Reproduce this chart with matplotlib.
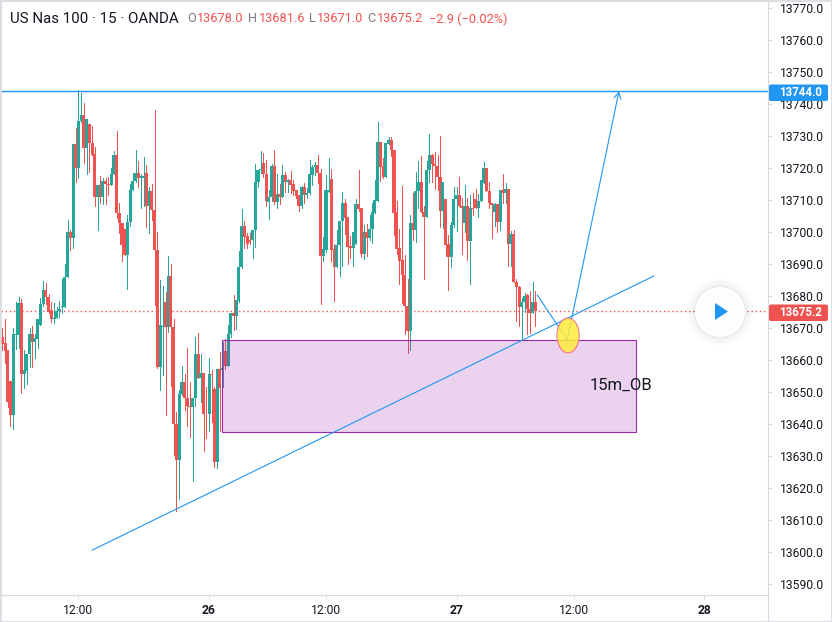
import matplotlib
matplotlib.use('Agg')
import matplotlib.pyplot as plt
import numpy as np
from matplotlib.patches import Rectangle, Ellipse, Circle, Polygon, FancyBboxPatch

plt.rcParams['font.family'] = ['Roboto', 'DejaVu Sans']

# prices are stored minus this base to keep the lists short
price_base = 13000

opens = [
    667.1, 665.2, 663.1, 653.4, 642.9, 667.8, 667.8, 677.8, 655.8, 656.7,
    661.8, 668.0, 665.7, 666.7, 670.9, 677.5, 681.9, 679.6, 675.8, 672.9,
    673.1, 675.2, 676.5, 676.5, 686.0, 699.9, 698.2, 727.5, 720.1, 734.7,
    736.6, 726.4, 733.7, 727.7, 724.4, 711.0, 714.6, 711.0, 716.1, 714.9,
    714.8, 718.3, 724.0, 706.0, 702.9, 701.0, 692.9, 703.3, 713.3, 715.9,
    718.4, 716.8, 716.8, 718.4, 708.1, 712.8, 707.0, 694.4, 657.9, 670.4,
    678.1, 670.4, 686.3, 670.2, 640.0, 628.8, 649.4, 653.1, 648.0, 645.7,
    645.4, 648.0, 661.9, 654.4, 655.9, 643.1, 643.0, 655.6, 651.0, 628.2,
    657.2, 656.9, 662.8, 658.2, 668.0, 674.8, 673.9, 678.4, 689.0, 701.9,
    698.8, 697.5, 697.5, 700.8, 715.6, 719.4, 721.6, 718.3, 709.5, 711.0,
    720.6, 709.4, 711.9, 710.9, 717.8, 715.6, 716.3, 715.0, 713.1, 711.6,
    708.1, 714.0, 711.6, 712.2, 717.8, 720.2, 720.9, 718.6, 692.6, 694.4,
    712.6, 716.6, 694.7, 689.2, 696.1, 703.4, 709.0, 704.6, 695.6, 695.1,
    696.4, 708.7, 707.5, 693.2, 700.0, 698.0, 701.1, 706.0, 709.8, 728.1,
    720.6, 717.3, 727.4, 728.7, 725.8, 706.3, 695.0, 691.3, 686.6, 676.9,
    669.2, 702.7, 700.6, 712.7, 715.5, 706.4, 704.8, 719.3, 724.0, 721.3,
    720.8, 717.1, 706.7, 710.3, 696.2, 692.3, 702.1, 710.3, 711.6, 708.1,
    702.7, 708.1, 697.3, 707.4, 710.3, 707.5, 709.7, 715.4, 719.9, 712.9,
    709.0, 706.3, 708.8, 703.2, 713.1, 712.2, 713.4, 696.3, 699.3, 684.4,
    682.9, 676.7, 678.0, 680.3, 676.1, 674.6, 678.1,
]
highs = [
    669.9, 672.8, 663.1, 653.4, 670.0, 678.1, 679.7, 679.0, 663.1, 661.8,
    670.0, 670.5, 668.3, 672.8, 679.3, 684.7, 684.0, 680.8, 678.2, 677.7,
    676.5, 678.4, 685.3, 690.0, 703.7, 700.6, 727.5, 732.6, 744.4, 743.5,
    740.2, 735.2, 733.7, 733.1, 726.7, 714.8, 717.5, 716.8, 716.8, 717.2,
    719.9, 725.3, 731.6, 709.0, 702.9, 701.0, 705.3, 715.0, 718.6, 725.6,
    722.2, 718.3, 723.5, 720.9, 714.0, 715.0, 738.1, 700.0, 685.0, 683.1,
    681.3, 692.5, 690.0, 672.7, 643.8, 650.6, 658.3, 655.8, 663.7, 653.1,
    648.0, 667.1, 668.6, 661.9, 655.9, 651.5, 660.6, 656.9, 651.5, 657.2,
    662.5, 665.7, 666.6, 670.9, 674.8, 680.3, 678.8, 694.0, 707.2, 703.4,
    699.6, 699.6, 700.8, 721.3, 719.4, 725.3, 724.6, 722.5, 713.1, 721.3,
    725.8, 718.3, 715.0, 721.1, 718.8, 716.5, 719.0, 716.4, 713.1, 711.6,
    714.4, 715.2, 713.9, 722.5, 720.9, 722.0, 724.0, 719.6, 698.5, 717.8,
    723.1, 719.6, 696.4, 700.6, 703.4, 712.5, 710.3, 704.6, 698.7, 700.0,
    710.3, 719.4, 707.5, 702.2, 702.5, 705.3, 709.0, 716.3, 734.4, 728.1,
    723.1, 727.7, 729.6, 729.6, 725.8, 709.7, 700.9, 714.4, 692.8, 685.2,
    705.3, 712.1, 718.9, 722.2, 723.8, 708.1, 722.2, 730.6, 724.5, 724.9,
    724.0, 730.0, 715.6, 710.3, 699.0, 703.1, 714.0, 714.2, 717.2, 710.8,
    714.7, 710.5, 711.6, 712.3, 713.4, 711.9, 716.3, 721.9, 719.9, 715.6,
    709.0, 709.2, 708.8, 713.0, 718.3, 715.2, 713.4, 700.4, 700.6, 685.2,
    683.1, 679.3, 681.1, 680.6, 681.5, 684.3, 681.6,
]
lows = [
    663.1, 659.0, 645.4, 639.4, 638.4, 663.6, 663.8, 649.8, 651.4, 652.5,
    657.9, 657.9, 660.7, 663.9, 670.9, 676.9, 677.5, 674.6, 671.8, 671.7,
    673.1, 673.5, 674.6, 676.5, 686.0, 694.4, 694.9, 715.7, 717.0, 734.5,
    721.7, 718.1, 718.9, 724.2, 708.1, 700.6, 709.2, 708.8, 708.8, 711.6,
    714.8, 718.1, 704.3, 699.8, 691.0, 692.9, 682.2, 702.0, 713.1, 715.7,
    714.0, 707.4, 708.1, 701.7, 699.8, 703.7, 677.2, 657.4, 650.6, 655.3,
    642.8, 668.9, 651.9, 630.3, 612.9, 616.6, 649.1, 644.4, 639.4, 636.0,
    622.3, 645.6, 654.4, 647.0, 631.7, 635.8, 637.9, 640.7, 626.7, 626.3,
    637.8, 651.7, 657.2, 658.2, 667.3, 669.4, 669.6, 678.2, 688.7, 694.9,
    694.9, 696.2, 691.9, 695.4, 714.0, 718.5, 717.3, 708.1, 704.1, 709.8,
    708.7, 707.6, 708.7, 710.9, 712.5, 712.5, 712.1, 711.6, 710.8, 706.6,
    707.6, 709.0, 710.5, 712.0, 714.7, 717.8, 715.4, 677.5, 691.0, 693.9,
    712.4, 691.0, 678.5, 689.2, 686.3, 689.5, 699.4, 690.0, 691.8, 689.5,
    696.4, 706.5, 692.3, 691.7, 692.5, 697.5, 696.7, 706.0, 709.8, 716.0,
    717.0, 717.3, 727.4, 723.8, 699.0, 693.3, 683.8, 677.9, 668.3, 662.1,
    663.1, 697.5, 697.0, 707.4, 706.4, 685.4, 704.8, 715.5, 715.5, 713.4,
    713.3, 701.5, 701.4, 692.5, 681.9, 689.2, 701.7, 700.4, 708.1, 693.1,
    699.9, 691.3, 683.8, 705.3, 707.5, 704.8, 709.7, 715.4, 712.9, 707.4,
    698.2, 702.0, 700.1, 700.6, 709.0, 709.0, 689.4, 689.4, 684.4, 672.2,
    670.7, 666.3, 675.1, 668.3, 668.5, 674.6, 670.7,
]
closes = [
    665.0, 662.9, 647.0, 642.9, 668.0, 668.0, 677.8, 655.8, 656.9, 661.8,
    668.0, 665.7, 667.0, 672.8, 677.5, 681.9, 679.6, 674.9, 672.9, 673.1,
    675.2, 676.1, 676.7, 686.0, 699.9, 698.2, 727.5, 720.1, 734.7, 736.6,
    726.4, 735.2, 727.7, 724.2, 711.0, 714.8, 711.0, 716.1, 714.9, 714.8,
    718.3, 724.0, 706.0, 702.9, 696.0, 692.9, 703.3, 713.3, 715.9, 718.4,
    716.8, 717.5, 717.5, 708.1, 712.8, 706.9, 694.4, 657.9, 670.9, 670.8,
    670.4, 686.3, 670.2, 640.0, 628.8, 649.4, 653.1, 648.0, 645.7, 645.4,
    648.0, 661.9, 654.4, 655.9, 643.0, 643.0, 655.6, 655.4, 628.2, 657.2,
    651.3, 657.4, 658.2, 668.0, 674.6, 673.9, 678.8, 689.0, 701.9, 698.6,
    696.4, 696.8, 700.8, 715.6, 719.4, 719.8, 718.3, 709.8, 711.0, 720.6,
    709.3, 711.9, 710.9, 717.8, 715.6, 716.3, 714.8, 712.8, 711.2, 708.1,
    714.0, 711.6, 712.1, 718.1, 720.2, 720.9, 718.6, 692.6, 694.6, 713.1,
    713.1, 694.4, 689.2, 696.1, 703.4, 709.0, 704.5, 695.4, 695.1, 700.0,
    708.7, 707.3, 693.2, 700.0, 698.1, 701.1, 706.2, 710.0, 728.1, 720.4,
    717.1, 727.7, 728.7, 725.6, 706.1, 694.7, 691.0, 686.6, 676.9, 669.2,
    702.7, 700.6, 712.7, 715.5, 706.4, 704.8, 719.3, 724.0, 721.3, 720.8,
    717.1, 706.7, 715.6, 695.9, 692.3, 702.1, 710.3, 711.6, 708.1, 707.5,
    708.1, 697.3, 707.4, 707.1, 707.5, 709.7, 716.3, 719.9, 712.9, 709.0,
    708.6, 708.8, 703.2, 713.0, 712.2, 713.4, 696.3, 699.3, 684.4, 682.9,
    676.7, 678.0, 680.1, 675.9, 674.6, 678.1, 675.2,
]

x_ticks = [28, 76, 119, 167, 210, 258]
x_labels = ['12:00', '26', '12:00', '27', '12:00', '28']
y_ticks = list(range(13590, 13780, 10))

last_price = 13675.2
target_price = 13744.0

# drawings: bar number, price
trend_x = [33, 239.6]
trend_y = [13600.6, 13686.3]
move_x = [196.7, 207.7]
move_y = [13680.3, 13666.3]
target_x = 226.7
zone_x = [80.7, 232.8]
zone_y = [13637.5, 13666.4]
circle_x, circle_y = 208, 13667.7

up = '#26A69A'
down = '#EF5350'
blue = '#2196F3'
purple = '#9C27B0'
grey = '#D6D8DE'
ink = '#131722'

W, H = 832, 622

o = np.array(opens) + price_base
h = np.array(highs) + price_base
l = np.array(lows) + price_base
c = np.array(closes) + price_base
idx = np.arange(len(o))
colors = [up if c[i] >= o[i] else down for i in idx]

fig = plt.figure(figsize=(W / 100, H / 100), dpi=100)
ax = fig.add_axes([1 / W, (H - 595) / H, 767 / W, 594 / H])

ax.set_xlim(-0.48, 281.5)
ax.set_ylim(13586.6, 13772.2)

# candles
ax.vlines(idx, l, h, colors=colors, linewidth=0.72, zorder=2, antialiased=False)
ax.bar(idx, np.maximum(np.abs(c - o), 0.3), bottom=np.minimum(o, c), width=1.12,
       color=colors, linewidth=0, zorder=3, antialiased=False)

# last price + target line
ax.axhline(last_price, color=down, linewidth=1.0, linestyle=(0, (1, 2)), zorder=1)
ax.axhline(target_price, color=blue, linewidth=1.0, zorder=4)

# order block
ax.add_patch(Rectangle((zone_x[0], zone_y[0]), zone_x[1] - zone_x[0], zone_y[1] - zone_y[0],
                       facecolor=purple, alpha=0.2, linewidth=0, zorder=4))
ax.add_patch(Rectangle((zone_x[0], zone_y[0]), zone_x[1] - zone_x[0], zone_y[1] - zone_y[0],
                       fill=False, edgecolor=purple, linewidth=0.8, zorder=4))
ax.text(215.8, 13652, '15m_OB', fontsize=12, color=ink, va='center', ha='left', zorder=6)

# trend line and arrow
ax.plot(trend_x, trend_y, color=blue, linewidth=0.8, zorder=5)
ax.plot(move_x, move_y, color=blue, linewidth=0.8, zorder=5)
ax.annotate('', xy=(target_x, target_price), xytext=(move_x[1], move_y[1]),
            arrowprops=dict(arrowstyle='->,head_length=0.45,head_width=0.25', color=blue,
                            linewidth=0.8, shrinkA=0, shrinkB=0, mutation_scale=10), zorder=5)

ax.add_patch(Ellipse((circle_x, circle_y), 8.2, 10.9, facecolor='#FFEB3B', alpha=0.85,
                     edgecolor='#F06292', linewidth=0.8, zorder=6))

ax.yaxis.tick_right()
ax.set_yticks(y_ticks)
ax.set_yticklabels([f'{v:.1f}' for v in y_ticks], fontsize=8.7, color=ink)
ax.set_xticks(x_ticks)
ax.set_xticklabels(x_labels, fontsize=8.7, color=ink)
for t, name in zip(ax.get_xticklabels(), x_labels):
    if name != '12:00':
        t.set_fontweight('bold')
ax.tick_params(axis='y', length=3, width=0.7, color=grey, pad=5.5)
ax.tick_params(axis='x', length=3, width=0.7, color=grey, pad=3.5)
ax.spines['left'].set_visible(False)
ax.spines['top'].set_visible(False)
ax.spines['right'].set_color(grey)
ax.spines['bottom'].set_color(grey)
ax.spines['right'].set_linewidth(0.8)
ax.spines['bottom'].set_linewidth(0.8)

# overlay in screen pixels for the tradingview chrome
ui = fig.add_axes([0, 0, 1, 1], zorder=10)
ui.set_xlim(0, W)
ui.set_ylim(H, 0)
ui.axis('off')
ui.patch.set_alpha(0)

ui.add_patch(Rectangle((0.5, 0.5), W - 1, H - 1, fill=False, edgecolor=grey, linewidth=1.2))
ui.plot([768, 768], [595, 621], color=grey, linewidth=0.8)

ui.text(10, 19, 'US Nas 100 · 15 · OANDA', fontsize=10.8, color=ink, va='center')
header = [(187, 'O', '#787B86'), (197, '13678.0', down), (248, 'H', '#787B86'), (259, '13681.6', down),
          (309, 'L', '#787B86'), (317, '13671.0', down), (367, 'C', '#787B86'), (377, '13675.2', down),
          (429, '−2.9 (−0.02%)', down)]
for hx, txt, col in header:
    ui.text(hx, 19, txt, fontsize=9.2, color=col, va='center')

# price tags
for ty, txt, col in [(92.5, '13744.0', blue), (312.5, '13675.2', down)]:
    ui.add_patch(FancyBboxPatch((769, ty - 8), 59, 16.5, boxstyle='round,pad=0,rounding_size=2',
                                facecolor=col, edgecolor='none'))
    ui.text(779.5, ty + 0.3, txt, fontsize=8.3, color='white', fontweight='bold', va='center')

# play button
for r, a in zip([34, 31, 28, 26], [0.012, 0.018, 0.025, 0.03]):
    ui.add_patch(Circle((720, 312), r, facecolor='black', alpha=a, edgecolor='none'))
ui.add_patch(Circle((720, 312), 25, facecolor='white', alpha=0.95, edgecolor='none'))
ui.add_patch(Polygon([[715, 303], [715, 320], [728, 311.5]], closed=True, facecolor=blue, edgecolor='none'))

fig.savefig('out.png', dpi=100)
